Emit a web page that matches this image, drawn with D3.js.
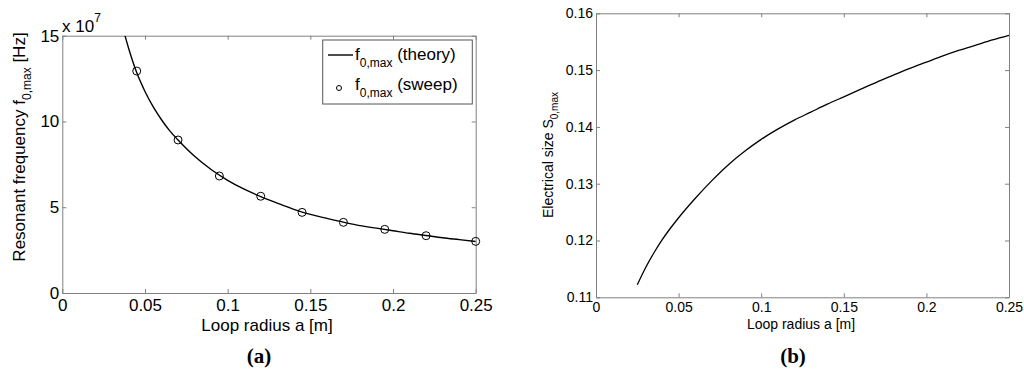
<!DOCTYPE html>
<html>
<head>
<meta charset="utf-8">
<script src="https://cdn.jsdelivr.net/npm/d3@7"></script>
<style>
  body { margin: 0; background: #fff; }
  text { font-family: "Liberation Sans", Arial, sans-serif; fill: #000; }
  .caption { font-family: "Liberation Serif", "Times New Roman", serif; font-weight: bold; }
</style>
</head>
<body>
<div id="chart"></div>
<script>
// Panel (a): resonant frequency vs loop radius (values in units of 1e7 Hz)
const theoryRadius = [0.0379, 0.04, 0.045, 0.05, 0.055, 0.06, 0.065, 0.07, 0.08, 0.09, 0.1, 0.11, 0.12, 0.13, 0.14, 0.15, 0.16, 0.17, 0.18, 0.19, 0.2, 0.21, 0.22, 0.23, 0.24, 0.25];
const theoryFreq = [15.0, 14.3, 12.85, 11.75, 10.85, 10.1, 9.45, 8.92, 7.97, 7.2, 6.57, 6.05, 5.62, 5.24, 4.88, 4.58, 4.35, 4.13, 3.93, 3.78, 3.63, 3.48, 3.35, 3.22, 3.11, 3.0];
const sweepRadius = [0.045, 0.07, 0.095, 0.12, 0.145, 0.17, 0.195, 0.22, 0.25];
const sweepFreq = [12.94, 8.92, 6.82, 5.64, 4.7, 4.12, 3.71, 3.34, 3.01];

// Panel (b): electrical size vs loop radius
const sizeRadius = [0.025, 0.03, 0.035, 0.04, 0.05, 0.06, 0.07, 0.08, 0.09, 0.1, 0.11, 0.12, 0.13, 0.14, 0.15, 0.16, 0.17, 0.18, 0.19, 0.2, 0.21, 0.22, 0.23, 0.24, 0.25];
const sizeValue = [0.1122, 0.1152, 0.1178, 0.1201, 0.124, 0.1274, 0.1305, 0.1333, 0.1357, 0.1378, 0.1396, 0.1412, 0.1426, 0.144, 0.1453, 0.1466, 0.1479, 0.1491, 0.1503, 0.1514, 0.1525, 0.1535, 0.1544, 0.1553, 0.1561];

// Tick labels
const radiusTicks = [0, 0.05, 0.1, 0.15, 0.2, 0.25];
const radiusTickLabels = ["0", "0.05", "0.1", "0.15", "0.2", "0.25"];
const freqTicks = [0, 5, 10, 15];
const freqTickLabels = ["0", "5", "10", "15"];
const sizeTicks = [0.11, 0.12, 0.13, 0.14, 0.15, 0.16];
const sizeTickLabels = ["0.11", "0.12", "0.13", "0.14", "0.15", "0.16"];

const WIDTH = 1024;
const HEIGHT = 373;
const AXIS_GRAY = "#808080";

const svg = d3.select("#chart")
  .append("svg")
  .attr("width", WIDTH)
  .attr("height", HEIGHT);

// Draws a MATLAB style box with inward ticks on all four sides
function drawBox(x, y, xTicks, xLabels, yTicks, yLabels, fontSize, xPad) {
  const [x0, x1] = x.range();
  const [y0, y1] = y.range();
  const g = svg.append("g");

  const bottom = d3.axisBottom(x).tickValues(xTicks)
    .tickFormat((d, i) => xLabels[i]).tickSizeInner(-4).tickSizeOuter(0).tickPadding(xPad);
  const top = d3.axisTop(x).tickValues(xTicks).tickFormat("").tickSizeInner(-4).tickSizeOuter(0);
  const left = d3.axisLeft(y).tickValues(yTicks)
    .tickFormat((d, i) => yLabels[i]).tickSizeInner(-4).tickSizeOuter(0).tickPadding(3);
  const right = d3.axisRight(y).tickValues(yTicks).tickFormat("").tickSizeInner(-4).tickSizeOuter(0);

  g.append("g").attr("transform", `translate(0,${y0})`).call(bottom);
  g.append("g").attr("transform", `translate(0,${y1})`).call(top);
  g.append("g").attr("transform", `translate(${x0},0)`).call(left);
  g.append("g").attr("transform", `translate(${x1},0)`).call(right);

  g.selectAll(".domain, .tick line").attr("stroke", AXIS_GRAY);
  g.selectAll(".tick text")
    .attr("fill", "#000")
    .style("font-family", '"Liberation Sans", Arial, sans-serif')
    .style("font-size", fontSize + "px");
  return g;
}

// ---------- Panel (a) ----------
const xA = d3.scaleLinear().domain([0, 0.25]).range([62.3, 475.7]);
const yA = d3.scaleLinear().domain([0, 15]).range([293, 35.7]);

drawBox(xA, yA, radiusTicks, radiusTickLabels, freqTicks, freqTickLabels, 17, 6);

svg.append("clipPath").attr("id", "clipA")
  .append("rect").attr("x", 62.3).attr("y", 35.7).attr("width", 413.4).attr("height", 257.3);

svg.append("path")
  .datum(theoryRadius.map((r, i) => [r, theoryFreq[i]]))
  .attr("clip-path", "url(#clipA)")
  .attr("fill", "none")
  .attr("stroke", "#000")
  .attr("stroke-width", 1.4)
  .attr("d", d3.line().x(d => xA(d[0])).y(d => yA(d[1])).curve(d3.curveMonotoneX));

svg.append("g")
  .selectAll("circle")
  .data(sweepRadius.map((r, i) => [r, sweepFreq[i]]))
  .join("circle")
  .attr("cx", d => xA(d[0]))
  .attr("cy", d => yA(d[1]))
  .attr("r", 4)
  .attr("fill", "none")
  .attr("stroke", "#000")
  .attr("stroke-width", 1);

// exponent note
const expo = svg.append("text").attr("x", 62).attr("y", 31.5).style("font-size", "17px");
expo.append("tspan").text("x 10");
expo.append("tspan").attr("dy", -10).style("font-size", "12px").text("7");

// axis labels
svg.append("text")
  .attr("x", 267).attr("y", 331)
  .attr("text-anchor", "middle")
  .style("font-size", "17px")
  .text("Loop radius a [m]");

const yLabA = svg.append("text")
  .attr("transform", "translate(25,147) rotate(-90)")
  .attr("text-anchor", "middle")
  .style("font-size", "17px");
yLabA.append("tspan").text("Resonant frequency f");
yLabA.append("tspan").attr("dy", 6).style("font-size", "12px").text("0,max");
yLabA.append("tspan").attr("dy", -6).text(" [Hz]");

// legend
const legend = svg.append("g");
legend.append("rect")
  .attr("x", 322.7).attr("y", 40).attr("width", 149.6).attr("height", 64)
  .attr("fill", "#fff").attr("stroke", "#555").attr("stroke-width", 1);
legend.append("line")
  .attr("x1", 328).attr("x2", 353).attr("y1", 55).attr("y2", 55)
  .attr("stroke", "#000").attr("stroke-width", 1.4);
legend.append("circle")
  .attr("cx", 339).attr("cy", 88).attr("r", 2.5)
  .attr("fill", "none").attr("stroke", "#000");
const legendRows = [["(theory)", 60], ["(sweep)", 90]];
legendRows.forEach(([name, yPos]) => {
  const t = legend.append("text").attr("x", 355).attr("y", yPos).style("font-size", "17px");
  t.append("tspan").text("f");
  t.append("tspan").attr("dy", 7).style("font-size", "12px").text("0,max");
  t.append("tspan").attr("dy", -7).text(" " + name);
});

svg.append("text")
  .attr("class", "caption")
  .attr("x", 259).attr("y", 362.5)
  .attr("text-anchor", "middle")
  .style("font-size", "21px")
  .text("(a)");

// ---------- Panel (b) ----------
const xB = d3.scaleLinear().domain([0, 0.25]).range([596, 1009]);
const yB = d3.scaleLinear().domain([0.11, 0.16]).range([297.3, 13.3]);

drawBox(xB, yB, radiusTicks, radiusTickLabels, sizeTicks, sizeTickLabels, 14, 5);

svg.append("path")
  .datum(sizeRadius.map((r, i) => [r, sizeValue[i]]))
  .attr("fill", "none")
  .attr("stroke", "#000")
  .attr("stroke-width", 1.3)
  .attr("d", d3.line().x(d => xB(d[0])).y(d => yB(d[1])).curve(d3.curveMonotoneX));

svg.append("text")
  .attr("x", 801).attr("y", 329)
  .attr("text-anchor", "middle")
  .style("font-size", "14px")
  .text("Loop radius a [m]");

const yLabB = svg.append("text")
  .attr("transform", "translate(553,155) rotate(-90)")
  .attr("text-anchor", "middle")
  .style("font-size", "14px");
yLabB.append("tspan").text("Electrical size S");
yLabB.append("tspan").attr("dy", 5).style("font-size", "10px").text("0,max");

svg.append("text")
  .attr("class", "caption")
  .attr("x", 793).attr("y", 362.5)
  .attr("text-anchor", "middle")
  .style("font-size", "21px")
  .text("(b)");
</script>
</body>
</html>
